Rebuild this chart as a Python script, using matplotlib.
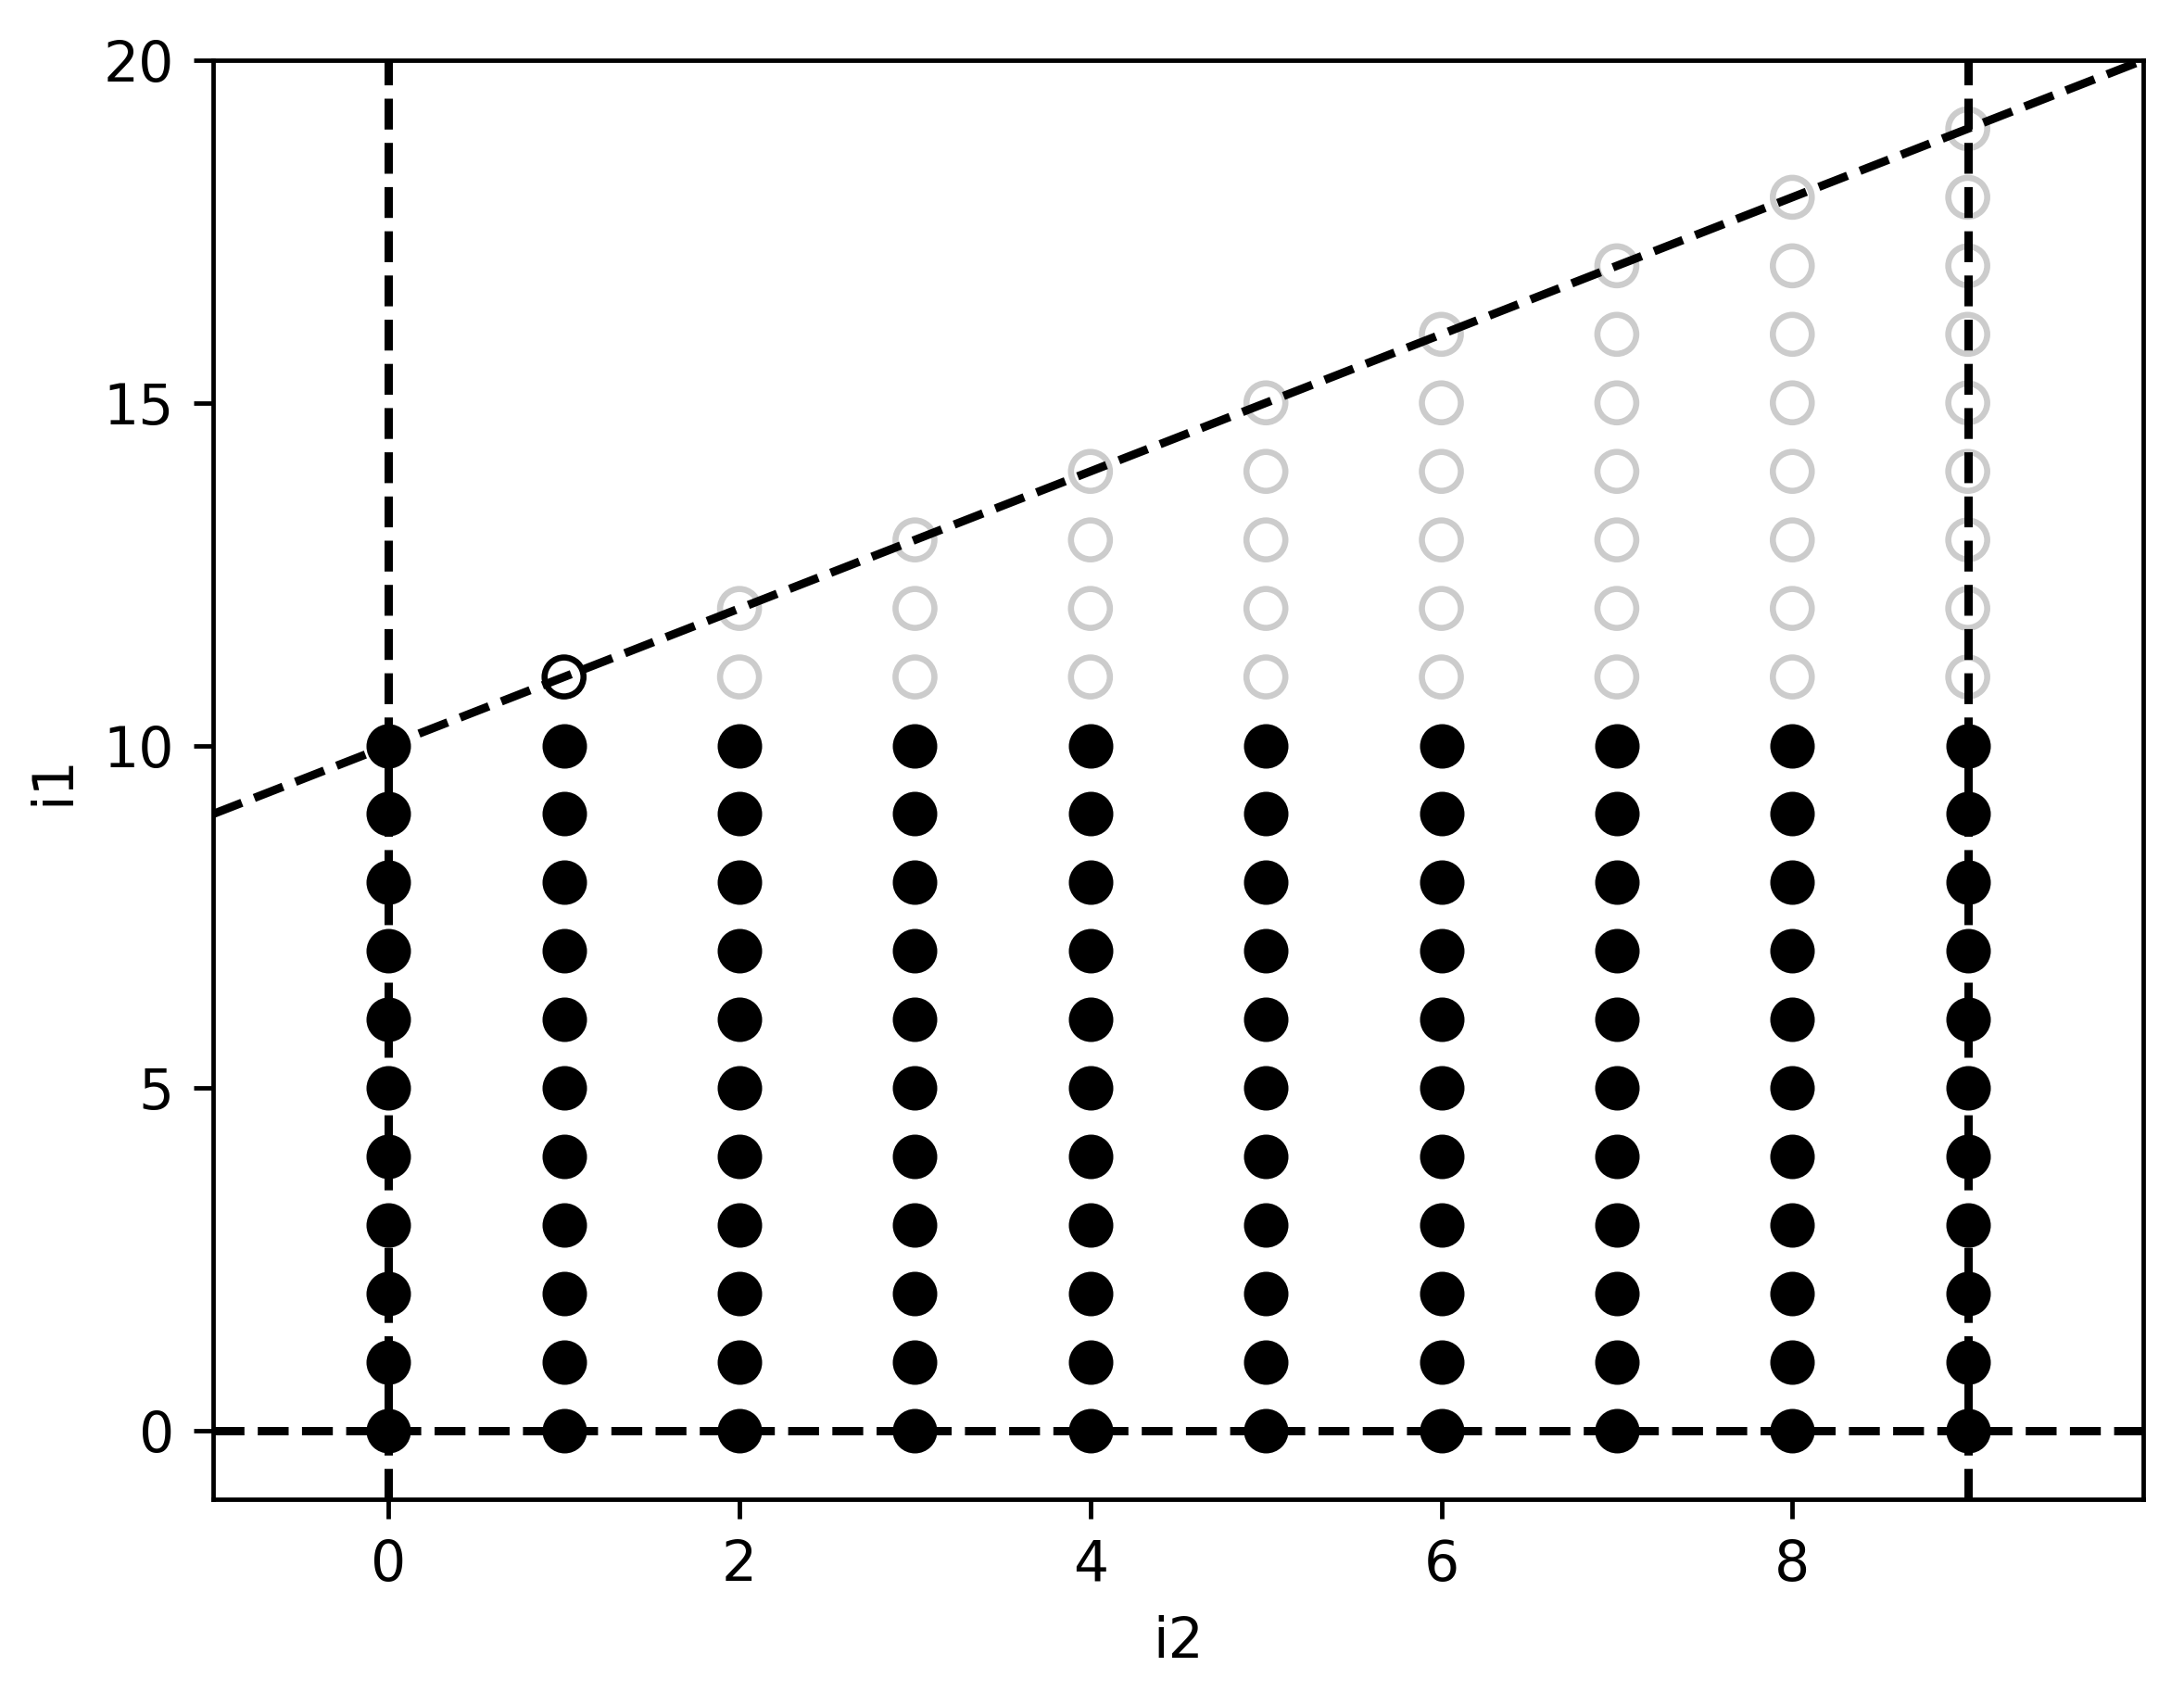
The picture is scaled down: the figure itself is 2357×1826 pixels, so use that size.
import matplotlib
matplotlib.use("Agg")
import matplotlib.pyplot as plt

# Feasible (filled black) points: i2 columns and i1 rows
i2_values = [0, 1, 2, 3, 4, 5, 6, 7, 8, 9]
i1_values = [0, 1, 2, 3, 4, 5, 6, 7, 8, 9, 10]

# Gray hollow points per column: top i1 value in each column (from 11 upward)
gray_i2 = [2, 3, 4, 5, 6, 7, 8, 9]
gray_top_i1 = [12, 13, 14, 15, 16, 17, 18, 19]

# Highlighted hollow black point
hl_i2 = [1]
hl_i1 = [11]

# Boundary lines
slant_x = [-1, 10]
slant_y = [9, 20]
vlines_x = [0, 9]
hline_y = [0]

DPI = 432
fig = plt.figure(figsize=(2357 / DPI, 1826 / DPI), dpi=DPI)
ax = fig.add_axes([230 / 2357, 1 - 1618 / 1826, (2313 - 230) / 2357, (1618 - 65) / 1826])

bx = [x for x in i2_values for _ in i1_values]
by = [y for _ in i2_values for y in i1_values]
ax.scatter(bx, by, s=49, color="black", zorder=1)

gx, gy = [], []
for x, top in zip(gray_i2, gray_top_i1):
    for y in range(11, top + 1):
        gx.append(x)
        gy.append(y)
ax.scatter(gx, gy, s=49, facecolors="none", edgecolors="0.8", linewidths=1.1, zorder=1)
ax.scatter(hl_i2, hl_i1, s=49, facecolors="none", edgecolors="black", linewidths=1.1, zorder=1)

ax.plot(slant_x, slant_y, "k--", zorder=2)
for vx in vlines_x:
    ax.axvline(vx, color="k", linestyle="--", zorder=2)
for hy in hline_y:
    ax.axhline(hy, color="k", linestyle="--", zorder=2)

ax.set_xlim(-1, 10)
ax.set_ylim(-1, 20)
ax.set_xticks([0, 2, 4, 6, 8])
ax.set_yticks([0, 5, 10, 15, 20])
ax.set_xlabel("i2")
ax.set_ylabel("i1")

fig.savefig("out.png", dpi=DPI)
